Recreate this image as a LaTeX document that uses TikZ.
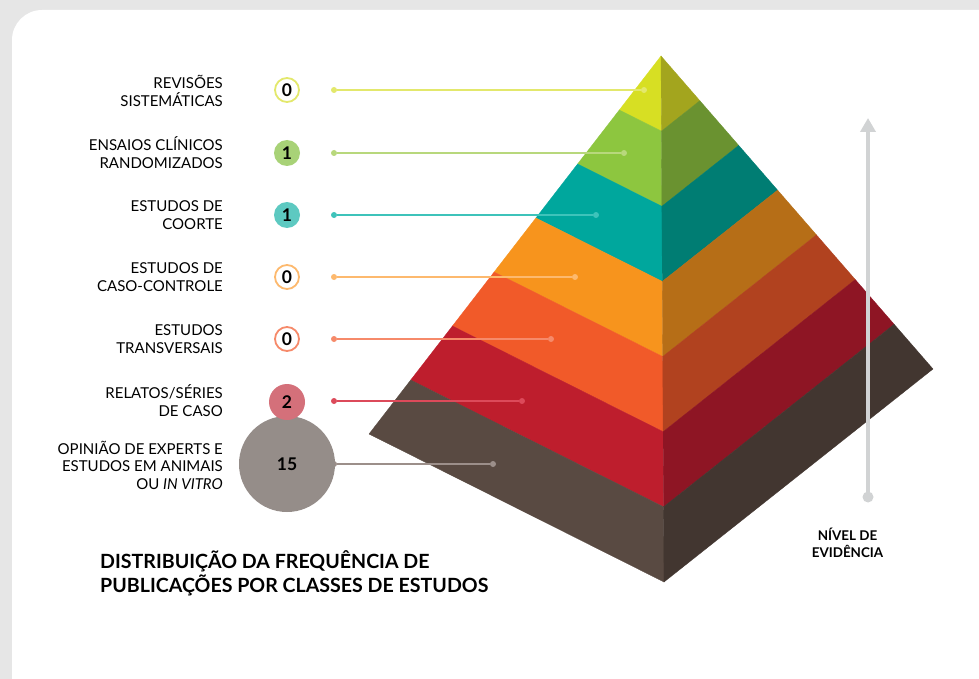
\documentclass[tikz,border=0pt]{standalone}
\usepackage{fontspec}
\setmainfont{Lato}
\usetikzlibrary{calc,arrows.meta}
\definecolor{bg}{HTML}{E6E6E6}
\definecolor{lf1}{HTML}{D7DF23}\definecolor{rf1}{HTML}{A3A51E}
\definecolor{lf2}{HTML}{8DC63F}\definecolor{rf2}{HTML}{6A9230}
\definecolor{lf3}{HTML}{00A79D}\definecolor{rf3}{HTML}{007D73}
\definecolor{lf4}{HTML}{F7941D}\definecolor{rf4}{HTML}{B66E17}
\definecolor{lf5}{HTML}{F15A29}\definecolor{rf5}{HTML}{B1421F}
\definecolor{lf6}{HTML}{BE1E2D}\definecolor{rf6}{HTML}{8E1524}
\definecolor{lf7}{HTML}{594A42}\definecolor{rf7}{HTML}{423630}
\definecolor{ln1}{HTML}{E3E86C}
\definecolor{ln2}{HTML}{B8D87C}
\definecolor{ln3}{HTML}{3EC3BA}
\definecolor{ln4}{HTML}{FDB96E}
\definecolor{ln5}{HTML}{F68A6A}
\definecolor{ln6}{HTML}{DC4A5A}
\definecolor{ln7}{HTML}{9C8F8A}
\definecolor{c2}{HTML}{D4707A}
\definecolor{c15}{HTML}{958D89}
\definecolor{c1g}{HTML}{A8D277}
\definecolor{c1t}{HTML}{5DC9C1}
\definecolor{arrowgray}{HTML}{D1D3D4}
\begin{document}
\begin{tikzpicture}[x=1pt,y=-1pt,
  lbl/.style={anchor=east,align=right,inner sep=0pt,font=\fontsize{15}{18}\selectfont},
  num/.style={circle,inner sep=0pt,font=\fontsize{17.5}{17.5}\selectfont\bfseries,text=black},
  zero/.style={num,fill=white,line width=1.8pt,minimum size=24pt},
  one/.style={num,minimum size=26pt},
  ldot/.style={circle,inner sep=0pt,minimum size=6pt},
  lead/.style={line width=2pt},
  face/.style={line width=0.3pt}]
\useasboundingbox (0,0) rectangle (979,679);
\clip (0,0) rectangle (979,679);
\fill[bg] (0,0) rectangle (979,679);
\fill[white,rounded corners=30pt] (12,10) rectangle (1010,720);

% pyramid
\coordinate (A) at (661,56);
\coordinate (L) at (369,434);
\coordinate (B) at (664,582);
\coordinate (R) at (933,369);
\foreach \k in {1,...,7}{
  \pgfmathtruncatemacro{\j}{\k-1}
  \filldraw[face,fill=lf\k,draw=lf\k] ($(A)!\j/7!(L)$) -- ($(A)!\k/7!(L)$) -- ($(A)!\k/7!(B)$) -- ($(A)!\j/7!(B)$) -- cycle;
  \filldraw[face,fill=rf\k,draw=rf\k] ($(A)!\j/7!(B)$) -- ($(A)!\k/7!(B)$) -- ($(A)!\k/7!(R)$) -- ($(A)!\j/7!(R)$) -- cycle;
}

% evidence arrow
\node[circle,fill=arrowgray,inner sep=0pt,minimum size=11pt] (ab) at (868,497) {};
\coordinate (at) at (868,118);
\draw[arrowgray,line width=4.3pt,-{Triangle[width=15pt,length=14pt]}] (ab.center) -- (at);
\node[align=center,inner sep=0pt,font=\fontsize{13.4}{17}\selectfont\bfseries] (nivel) at (847.5,543) {NÍVEL DE\\EVIDÊNCIA};

% leader lines
\foreach \i/\y/\xe in {1/90/644,2/153/624,3/215/596,4/277/575,5/339/551,6/401/522,7/464/493}{
  \node[ldot,fill=ln\i] (s\i) at (334,\y) {};
  \node[ldot,fill=ln\i] (e\i) at (\xe,\y) {};
  \draw[lead,ln\i] (s\i) -- (e\i);
}

% number circles
\node[zero,draw=ln1] (n1) at (287,90) {0};
\node[one,fill=c1g] (n2) at (287,153) {1};
\node[one,fill=c1t] (n3) at (287,215) {1};
\node[zero,draw=ln4] (n4) at (287,277) {0};
\node[zero,draw=ln5] (n5) at (287,339) {0};
\node[num,fill=c15,minimum size=96pt] (n7) at (287,464) {15};
\node[num,fill=c2,minimum size=36pt] (n6) at (287,402) {2};

% labels
\node[lbl] (t1) at (223,91) {REVISÕES\\SISTEMÁTICAS};
\node[lbl] (t2) at (223,153) {ENSAIOS CLÍNICOS\\RANDOMIZADOS};
\node[lbl] (t3) at (223,215) {ESTUDOS DE\\COORTE};
\node[lbl] (t4) at (223,277) {ESTUDOS DE\\CASO-CONTROLE};
\node[lbl] (t5) at (223,339) {ESTUDOS\\TRANSVERSAIS};
\node[lbl] (t6) at (223,401) {RELATOS/SÉRIES\\DE CASO};
\node[lbl,font=\fontsize{15}{17.5}\selectfont] (t7) at (223,465) {OPINIÃO DE EXPERTS E\hspace{3.5pt}\\ESTUDOS EM ANIMAIS\\OU \textit{IN VITRO}};

% title
\node[anchor=base west,align=left,inner sep=0pt,font=\fontsize{19.6}{24}\selectfont\bfseries] (title) at (100,592) {DISTRIBUIÇÃO DA FREQUÊNCIA DE\\PUBLICAÇÕES POR CLASSES DE ESTUDOS};
\end{tikzpicture}
\end{document}
